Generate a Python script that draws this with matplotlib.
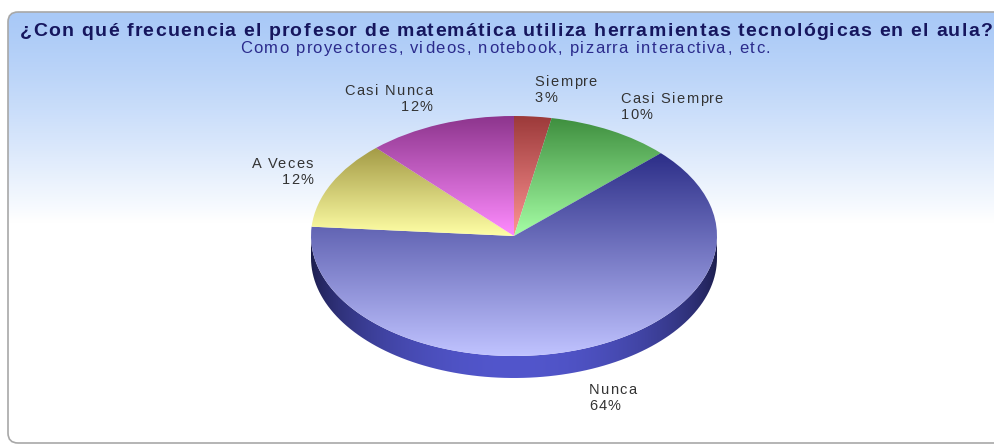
import numpy as np
import matplotlib
matplotlib.use("Agg")
import matplotlib.pyplot as plt
from matplotlib.patches import Wedge, FancyBboxPatch, PathPatch
from matplotlib.path import Path
from matplotlib.transforms import Affine2D
from matplotlib.colors import to_rgb

# data
categories = ["Siempre", "Casi Siempre", "Nunca", "A Veces", "Casi Nunca"]
percents = [3, 10, 64, 12, 12]
top_colors = ["#9c3a3a", "#3f8f3f", "#2c2e88", "#a39a45", "#8d358d"]
bottom_colors = ["#ff9494", "#a6ffa6", "#c0c3ff", "#ffffa6", "#ff8cff"]

title = "¿Con qué frecuencia el profesor de matemática utiliza herramientas tecnológicas en el aula?"
subtitle = "Como proyectores, videos, notebook, pizarra interactiva, etc."

W, H = 995, 445
fig = plt.figure(figsize=(W / 100, H / 100), dpi=100)
ax = fig.add_axes([0, 0, 1, 1])
ax.set_xlim(0, W)
ax.set_ylim(H, 0)
ax.axis("off")
renderer = fig.canvas.get_renderer()


def text_width(s, **kw):
    t = ax.text(0, 0, s, **kw)
    w = t.get_window_extent(renderer).width
    t.remove()
    return w


def tracked_text(x, y, s, track=None, width=None, ha="center", **kw):
    # the original chart renders text with a little extra letter spacing
    wd = text_width(".", **kw)
    pos = [0.0] + [text_width(s[:k] + ".", **kw) - wd for k in range(1, len(s))]
    base = text_width(s, **kw)
    if width is not None:
        track = (width - base) / (len(s) - 1)
    total = base + track * (len(s) - 1)
    x0 = {"center": x - total / 2, "left": x, "right": x - total}[ha]
    for k, c in enumerate(s):
        if c != " ":
            ax.text(x0 + pos[k] + k * track, y, c, ha="left", va="baseline", **kw)


def vgrad(c0, c1, n=256):
    c0, c1 = np.array(to_rgb(c0)), np.array(to_rgb(c1))
    t = np.linspace(0, 1, n)[:, None]
    return (c0 + (c1 - c0) * t)[:, None, :]


# background panel with blue -> white gradient
panel = FancyBboxPatch((8, 12), 1030, 431, boxstyle="round,pad=0,rounding_size=10",
                       facecolor="none", edgecolor="none", zorder=0)
ax.add_patch(panel)
t = np.linspace(0, 1, 256)
t = np.clip(t / 0.85, 0, 1) ** 1.25
c0 = np.array(to_rgb("#a9c9f7"))
bg = (c0 + (1 - c0) * t[:, None])[:, None, :]
im = ax.imshow(bg, extent=(8, 1038, 260, 12), aspect="auto", zorder=0)
im.set_clip_path(panel)
ax.add_patch(FancyBboxPatch((8, 12), 1030, 431, boxstyle="round,pad=0,rounding_size=10",
                            facecolor="none", edgecolor="#a8a8a8", lw=1.2, zorder=1))

# pie geometry (pixels)
cx, cy, rx, ry, depth = 514, 236, 203, 120, 22
ell = Affine2D().scale(rx, ry).translate(cx, cy)

fr = np.array(percents, dtype=float) / sum(percents)
edges = -90 + 360 * np.concatenate([[0], np.cumsum(fr)])

# side wall (only the lower half of the ellipse shows)
for i in range(len(categories)):
    a1, a2 = max(edges[i], 0), min(edges[i + 1], 180)
    if a2 <= a1:
        continue
    th = np.radians(np.linspace(a1, a2, 100))
    xs, ys = cx + rx * np.cos(th), cy + ry * np.sin(th)
    verts = np.concatenate([np.c_[xs, ys], np.c_[xs[::-1], ys[::-1] + depth], [[xs[0], ys[0]]]])
    side = PathPatch(Path(verts, closed=True), facecolor="none", edgecolor="none", zorder=2)
    ax.add_patch(side)
    u = np.linspace(-1, 1, 400)
    s = np.sqrt(np.clip(1 - u ** 2, 0, 1)) ** 1.5
    dk, lt = np.array(to_rgb("#1c1d4c")), np.array(to_rgb("#5256cc"))
    if i != 2:
        lt = np.array(to_rgb(top_colors[i]))
        dk = lt * 0.6
    simg = (dk + (lt - dk) * s[:, None])[None, :, :]
    sim = ax.imshow(simg, extent=(cx - rx, cx + rx, cy + ry + depth, cy - 2), aspect="auto", zorder=2)
    sim.set_clip_path(side)

# top faces with a vertical gradient per slice
for i in range(len(categories)):
    w = Wedge((0, 0), 1, edges[i], edges[i + 1], facecolor="none", edgecolor="none",
              transform=ell + ax.transData, zorder=3)
    ax.add_patch(w)
    ext = ell.transform_path(w.get_path()).get_extents()
    y0, y1 = max(ext.y0, cy - ry), min(ext.y1, cy + ry)
    im = ax.imshow(vgrad(top_colors[i], bottom_colors[i]),
                   extent=(cx - rx - 2, cx + rx + 2, y1, y0), aspect="auto", zorder=3)
    im.set_clip_path(w)

# labels
lab_kw = dict(fontsize=10.5, color="#333333", family="Liberation Sans", zorder=5)
for i, (cat, p) in enumerate(zip(categories, percents)):
    m = np.radians((edges[i] + edges[i + 1]) / 2)
    lx = cx + 223 * np.cos(m)
    ly = cy + 148 * np.sin(m) + (depth if np.sin(m) > 0 else 0)
    ha = "left" if np.cos(m) > 0 else "right"
    tracked_text(lx, ly - 3, cat, track=1.35, ha=ha, **lab_kw)
    tracked_text(lx, ly + 13, f"{p}%", track=1.35, ha=ha, **lab_kw)

ax.set_xlim(0, W)
ax.set_ylim(H, 0)

tracked_text(506, 36, title, width=972, fontsize=14, fontweight="bold",
             color="#16165e", family="Liberation Sans", zorder=5)
tracked_text(505, 53, subtitle, width=530, fontsize=12,
             color="#2b2b8c", family="Liberation Sans", zorder=5)

fig.savefig("out.png", dpi=100)
